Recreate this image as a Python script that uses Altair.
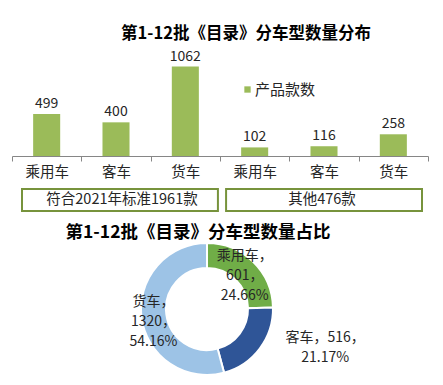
import altair as alt
import pandas as pd

# ---------------- data ----------------
groups = ['符合2021年标准1961款'] * 3 + ['其他476款'] * 3
vehicle_types = ['乘用车', '客车', '货车', '乘用车', '客车', '货车']
bar_values = [499, 400, 1062, 102, 116, 258]
series_name = '产品款数'

group_labels = ['符合2021年标准1961款', '其他476款']

share_types = ['乘用车', '客车', '货车']
share_values = [601, 516, 1320]
share_pct = ['24.66%', '21.17%', '54.16%']
share_colors = ['#70ad47', '#2f5597', '#9dc3e6']

title_top = '第1-12批《目录》分车型数量分布'
title_bottom = '第1-12批《目录》分车型数量占比'

FONT = 'Noto Sans CJK SC'
TXT = '#262626'

# ---------------- tables ----------------
keys = [f'{i}|{t}' for i, t in enumerate(vehicle_types)]
bars_df = pd.DataFrame({'key': keys, 'type': vehicle_types, 'group': groups,
                        'value': bar_values, 'series': series_name})
box_df = pd.DataFrame({'group': group_labels})
pie_df = pd.DataFrame({'type': share_types, 'value': share_values,
                       'pct': share_pct, 'order': list(range(len(share_types)))})
top_title_df = pd.DataFrame({'t': [title_top]})
title_df = pd.DataFrame({'t': [title_bottom]})

# ---------------- bar part ----------------
x_scale = alt.Scale(paddingInner=0, paddingOuter=0)
y_bar = alt.Y('value:Q', scale=alt.Scale(domain=[0, 1200], nice=False), axis=None)

bars = alt.Chart(bars_df).mark_bar(width=alt.RelativeBandSize(0.39)).encode(
    x=alt.X('key:N', sort=keys, scale=x_scale,
            axis=alt.Axis(title=None, labelExpr="split(datum.label, '|')[1]",
                          tickBand='extent', labelAngle=0, domainColor='#868686',
                          tickColor='#868686', tickSize=5, labelFontSize=14.5,
                          labelColor=TXT, labelPadding=4, labelFont=FONT, grid=False)),
    y=y_bar,
    color=alt.Color('series:N', scale=alt.Scale(range=['#9bbb59']),
                    legend=alt.Legend(orient='none', legendX=228, legendY=27, title=None,
                                      symbolType='square', symbolSize=40,
                                      symbolStrokeWidth=0, labelFontSize=15,
                                      labelFont=FONT, labelColor=TXT, labelOffset=0)),
)

bar_text = alt.Chart(bars_df).mark_text(dy=-10, fontSize=14, color=TXT, font=FONT,
                                        baseline='middle').encode(
    x=alt.X('key:N', sort=keys, scale=x_scale, axis=None),
    y=y_bar,
    text='value:Q',
)

x_box = alt.X('group:N', sort=group_labels,
              scale=alt.Scale(range=[10, 410], paddingInner=0.04, paddingOuter=0), axis=None)
boxes = alt.Chart(box_df).mark_rect(fill='white', stroke='#77933c', strokeWidth=2).encode(
    x=x_box, y=alt.value(134), y2=alt.value(156))
box_text = alt.Chart(box_df).mark_text(fontSize=14.5, color=TXT, font=FONT,
                                       baseline='middle').encode(
    x=x_box, y=alt.value(145), text='group:N')

title1 = alt.Chart(top_title_df).mark_text(fontSize=16.5, fontWeight='bold', font=FONT,
                                           color='#000000', baseline='middle').encode(
    text='t:N', x=alt.value(234), y=alt.value(-21))

# ---------------- donut part ----------------
cx, cy = 195, 254
base = alt.Chart(pie_df).encode(
    theta=alt.Theta('value:Q', stack=True),
    order=alt.Order('order:Q'),
)
arc = base.mark_arc(innerRadius=41, outerRadius=66, stroke='white', strokeWidth=2).encode(
    color=alt.Color('type:N', scale=alt.Scale(domain=share_types, range=share_colors),
                    legend=None),
    x=alt.value(cx), y=alt.value(cy))

lab_expr = "datum.type + '，\\n' + datum.value + '，\\n' + datum.pct"
lab_a = base.transform_calculate(
    lab="datum.type == '客车' ? '' : " + lab_expr
).mark_text(radius=54, dy=-14, lineBreak='\n', lineHeight=20, fontSize=14, color=TXT,
            font=FONT, baseline='middle').encode(
    text='lab:N', x=alt.value(cx), y=alt.value(cy))
lab_b = base.transform_calculate(
    lab="datum.type == '客车' ? datum.type + '，' + datum.value + '，\\n' + datum.pct : ''"
).mark_text(radius=54, dx=75, dy=-3, lineBreak='\n', lineHeight=20, fontSize=14, color=TXT,
            font=FONT, baseline='middle').encode(
    text='lab:N', x=alt.value(cx), y=alt.value(cy))

title2 = alt.Chart(title_df).mark_text(fontSize=17.5, fontWeight='bold', font=FONT,
                                       color='#000000', baseline='middle').encode(
    text='t:N', x=alt.value(186), y=alt.value(178))

chart = alt.layer(bars, bar_text, boxes, box_text, title1, arc, lab_a, lab_b,
                  title2).resolve_scale(
    x='independent', y='independent', color='independent'
).properties(
    width=416, height=101, autosize='none',
    padding={'left': 4, 'top': 47, 'right': 7, 'bottom': 221},
).configure_view(stroke=None)

chart.save("out.html", embed_options={"renderer": "svg", "actions": False})
